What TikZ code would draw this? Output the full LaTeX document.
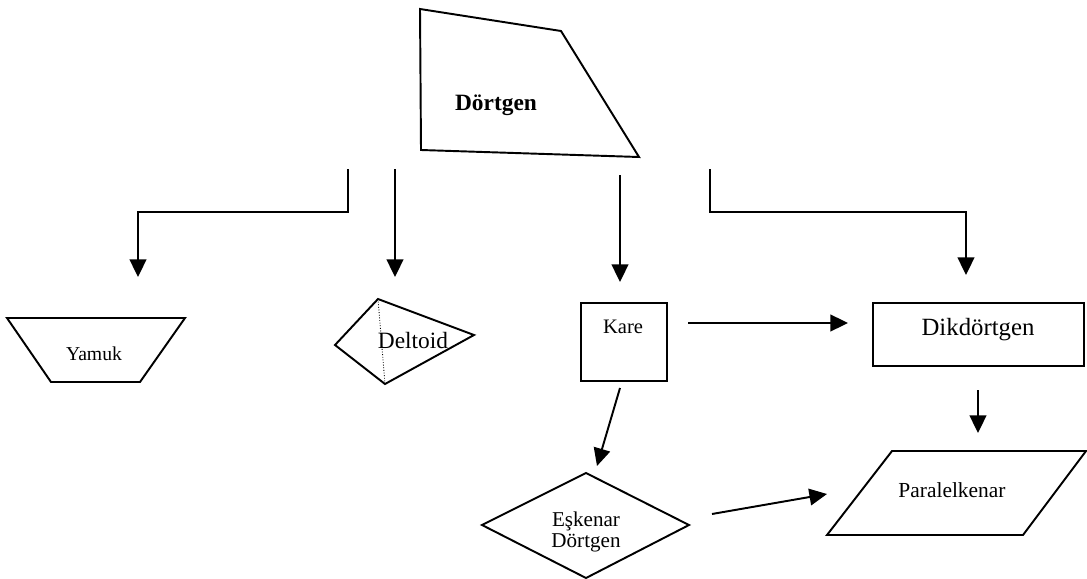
\documentclass[tikz,border=0pt]{standalone}
\usepackage{fontspec}
\setmainfont{Liberation Serif}
\usetikzlibrary{arrows.meta}

\begin{document}
\begin{tikzpicture}[scale=0.2, line width=1.1pt,
  link/.style={black, -{Triangle[length=10pt,width=9.5pt]}},
  txt/.style={anchor=base, inner sep=0pt}]
\useasboundingbox (0,0) rectangle (108.7,-57.8);
% shapes
\draw [black] (42.0,-0.9) -- (56.1,-3.1) -- (63.9,-15.7) -- (42.1,-15.0) -- cycle;
\node [txt, font=\fontsize{13.3}{15}\selectfont\bfseries] (dortgen) at (49.6,-11.0) {Dörtgen};
\draw [black] (0.7,-31.8) -- (18.5,-31.8) -- (14.0,-38.2) -- (5.1,-38.2) -- cycle;
\node [txt, font=\fontsize{11.2}{13}\selectfont] (yamuk) at (9.4,-36.0) {Yamuk};
\draw [black] (37.8,-29.9) -- (47.4,-33.5) -- (38.5,-38.4) -- (33.5,-34.5) -- cycle;
\draw [black, line width=0.5pt, densely dotted] (37.8,-29.9) -- (38.5,-38.4);
\node [txt, font=\fontsize{13.3}{15}\selectfont] (deltoid) at (41.3,-34.8) {Deltoid};
\draw [black] (58.1,-30.3) rectangle (66.7,-38.1);
\node [txt, font=\fontsize{11.7}{13}\selectfont] (kare) at (62.3,-33.3) {Kare};
\draw [black] (87.3,-30.3) rectangle (108.4,-36.6);
\node [txt, font=\fontsize{14.1}{16}\selectfont] (dikdortgen) at (97.8,-33.5) {Dikdörtgen};
\draw [black] (89.2,-45.1) -- (108.6,-45.1) -- (102.3,-53.5) -- (82.7,-53.5) -- cycle;
\node [txt, font=\fontsize{12.2}{14}\selectfont] (paralel) at (95.2,-49.7) {Paralelkenar};
\draw [black] (58.6,-47.3) -- (68.9,-52.5) -- (58.6,-57.8) -- (48.2,-52.5) -- cycle;
\node [anchor=north, inner sep=0pt, align=center, font=\fontsize{12}{12}\selectfont] (eskenar) at (58.6,-51.1) {Eşkenar\\Dörtgen};
% connector ends
\coordinate (b1) at (34.8,-16.9);
\coordinate (b1k) at (34.8,-21.2);
\coordinate (b1y) at (13.8,-21.2);
\coordinate (yamuk in) at (13.8,-27.7);
\coordinate (b2) at (39.5,-16.9);
\coordinate (deltoid in) at (39.5,-27.7);
\coordinate (b3) at (62.0,-17.5);
\coordinate (kare in) at (62.0,-28.2);
\coordinate (b4) at (71.0,-16.9);
\coordinate (b4k) at (71.0,-21.2);
\coordinate (b4d) at (96.6,-21.2);
\coordinate (dik in) at (96.6,-27.5);
\coordinate (kare out) at (68.8,-32.3);
\coordinate (dik left) at (84.8,-32.3);
\coordinate (dik out) at (97.8,-39.0);
\coordinate (paralel in) at (97.8,-43.3);
\coordinate (kare down) at (62.0,-38.8);
\coordinate (eskenar in) at (59.7,-46.6);
\coordinate (eskenar out) at (71.2,-51.4);
\coordinate (paralel left) at (82.7,-49.4);
% connectors
\draw [link] (b1) -- (b1k) -- (b1y) -- (yamuk in);
\draw [link] (b2) -- (deltoid in);
\draw [link] (b3) -- (kare in);
\draw [link] (b4) -- (b4k) -- (b4d) -- (dik in);
\draw [link] (kare out) -- (dik left);
\draw [link] (dik out) -- (paralel in);
\draw [link] (kare down) -- (eskenar in);
\draw [link] (eskenar out) -- (paralel left);
\end{tikzpicture}
\end{document}
